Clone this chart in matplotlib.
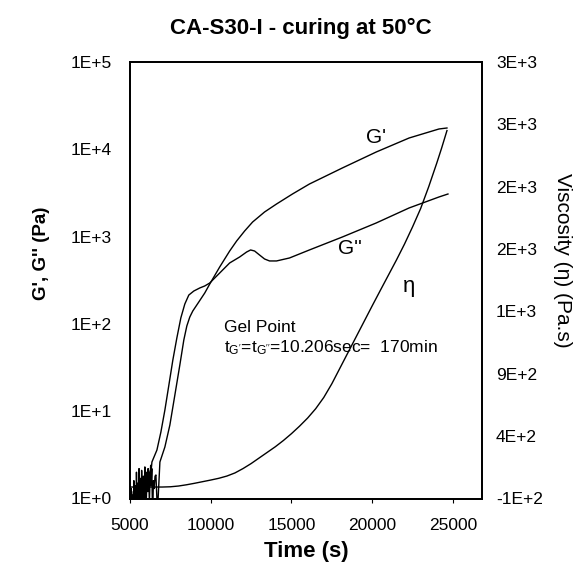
import matplotlib
matplotlib.use("Agg")
import matplotlib.pyplot as plt
from matplotlib.ticker import FixedLocator, FuncFormatter

plt.rcParams['font.family'] = ['Liberation Sans', 'DejaVu Sans']
plt.rcParams['mathtext.fontset'] = 'custom'
plt.rcParams['mathtext.rm'] = 'Liberation Sans'
plt.rcParams['mathtext.it'] = 'Liberation Sans'
plt.rcParams['mathtext.default'] = 'regular'

# ---------------- data ----------------
# G'' (loss modulus), Pa
t_g2 = [5040, 5080, 5120, 5160, 5200, 5240, 5280, 5320, 5360, 5400, 5440, 5480,
        5520, 5560, 5600, 5640, 5680, 5720, 5760, 5800, 5840, 5880, 5920, 5960,
        6000, 6040, 6080, 6120, 6160, 6200, 6240, 6280, 6320,
        6358, 6667, 6914, 7160, 7407, 7654, 7901, 8148, 8395, 8642, 8951, 9321,
        9630, 9938, 10556, 11173, 11790, 12222, 12469, 12716, 13025, 13334, 13642,
        14074, 14877, 16111, 18148, 20247, 22284, 24136, 24692]
g2 = [0.5, 1.3, 0.6, 1.1, 0.4, 1.6, 0.7, 1.2, 0.5, 2.0, 0.8, 1.5,
      0.6, 2.2, 1.0, 1.7, 0.7, 2.1, 1.2, 0.9, 1.8, 1.1, 2.3, 1.4,
      1.0, 2.0, 1.3, 2.2, 1.6, 2.0, 1.7, 2.4, 2.2,
      2.62, 3.59, 5.78, 10.3, 19.9, 38.6, 68.9, 117, 169, 214, 238, 258,
      272, 294, 383, 499, 584, 666, 703, 684, 615, 554, 526,
      526, 569, 703, 989, 1432, 2128, 2844, 3076]

# G' (storage modulus), Pa
t_g1 = [5050, 5100, 5150, 5200, 5250, 5300, 5350, 5400, 5450, 5500, 5550, 5600,
        5650, 5700, 5750, 5800, 5850, 5900, 5950, 6000, 6050, 6100, 6150, 6200,
        6250, 6300, 6350, 6400, 6450, 6500, 6550, 6605, 6700,
        6852, 7160, 7469, 7778, 8086, 8333, 8519, 8704, 8889, 9259, 9630, 9938,
        10556, 11173, 11605, 12099, 12593, 13334, 14074, 15062, 16111, 18148,
        20247, 22284, 24136, 24630]
g1 = [0.6, 0.9, 0.4, 1.2, 0.5, 0.8, 1.4, 0.5, 1.1, 0.7, 1.6, 0.6,
      1.3, 0.9, 1.8, 0.7, 1.5, 1.0, 2.0, 0.8, 1.7, 1.2, 2.1, 0.9,
      1.9, 1.4, 2.2, 0.6, 1.6, 1.3, 1.8, 1.86, 0.7,
      2.62, 3.89, 6.94, 15.3, 33.8, 65.4, 94.6, 120, 140.6, 178, 226, 286,
      449, 684, 891, 1159, 1469, 1914, 2362, 3076, 4002, 6106,
      9310, 13470, 17090, 17540]

# viscosity eta, Pa.s (right axis)
t_eta = [5000, 6000, 7000, 7500, 8000, 8500, 9000, 9500, 10000, 10500, 11000,
         11500, 12000, 12500, 13000, 13500, 14000, 14500, 15000, 15500, 16000,
         16500, 17000, 17500, 18000, 18500, 19000, 19500, 20000, 20500, 21000,
         21500, 22000, 22500, 23000, 23500, 24000, 24300, 24630]
eta = [-8, -8, -8, -6, 0, 10, 22, 35, 48, 62, 80,
       105, 140, 180, 225, 270, 315, 365, 420, 480, 545,
       620, 710, 820, 945, 1070, 1195, 1320, 1445, 1568, 1690,
       1812, 1940, 2078, 2225, 2400, 2590, 2710, 2850]

x_ticks = [5000, 10000, 15000, 20000, 25000]
left_ticks = [1, 10, 100, 1000, 10000, 100000]
right_ticks = [-100, 400, 900, 1400, 1900, 2400, 2900, 3400]


def excel_sci(v, pos=None):
    s = format(v, '.0E')
    return s.replace('E+0', 'E+').replace('E-0', 'E-')


fig = plt.figure(figsize=(5.84, 5.71), dpi=100)
ax = fig.add_axes([130 / 584, 1 - 498.5 / 571, 352 / 584, 436.5 / 571])
ax2 = ax.twinx()

lw = 1.0
ax.plot(t_g1, g1, color='black', lw=lw)
ax.plot(t_g2, g2, color='black', lw=lw)
ax2.plot(t_eta, eta, color='black', lw=lw)

ax.set_yscale('log')
ax.set_xlim(5000, 26800)
ax.set_ylim(1, 100000)
ax2.set_ylim(-100, 3400)

ax.xaxis.set_major_locator(FixedLocator(x_ticks))
ax.yaxis.set_major_locator(FixedLocator(left_ticks))
ax.yaxis.set_minor_locator(FixedLocator([]))
ax.yaxis.set_major_formatter(FuncFormatter(excel_sci))
ax2.yaxis.set_major_locator(FixedLocator(right_ticks))
ax2.yaxis.set_major_formatter(FuncFormatter(excel_sci))

ax.tick_params(axis='x', direction='out', length=3, width=0.8, pad=11, labelsize=12.5)
ax.tick_params(axis='y', length=0, pad=13, labelsize=12.5)
ax2.tick_params(axis='y', length=0, pad=10, labelsize=12.5)

for a in (ax, ax2):
    for sp in a.spines.values():
        sp.set_linewidth(1.3)

ax.set_xlabel('Time (s)', fontsize=16, fontweight='bold', labelpad=6)
ax.set_ylabel("G', G'' (Pa)", fontsize=13.5, fontweight='bold', va='center')
ax.yaxis.set_label_coords(-0.25, 0.562)
ax2.set_ylabel('Viscosity (η) (Pa.s)', fontsize=15, rotation=270, va='center')
ax2.yaxis.set_label_coords(1.23, 0.545)

ax.set_title('CA-S30-I - curing at 50°C', fontsize=16, fontweight='bold', x=0.484, pad=20)

ax.text(20247, 13800, "G'", fontsize=15, ha='center', va='center')
ax.text(18642, 740, "G''", fontsize=15, ha='center', va='center')
ax.text(22284, 265, "η", fontsize=16, ha='center', va='center')
ax.text(10803, 92, 'Gel Point', fontsize=12.5, ha='left', va='center')
ax.text(10803, 53, "t$_{G'}$=t$_{G''}$=10.206sec=  170min", fontsize=12.5,
        ha='left', va='center')

fig.savefig('out.png', dpi=100)
